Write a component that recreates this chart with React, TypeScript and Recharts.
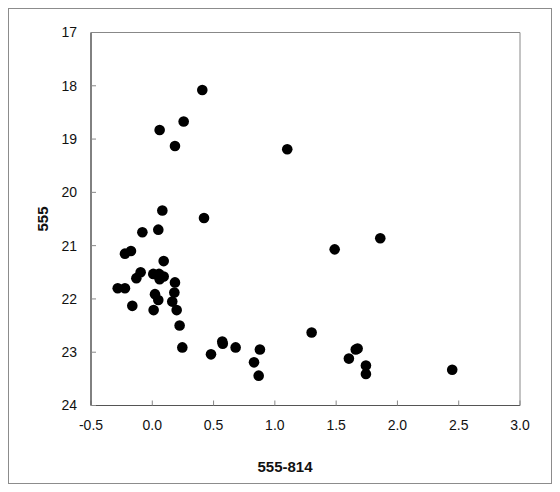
import React from 'react';
import { ScatterChart, Scatter, XAxis, YAxis, ReferenceArea, Label } from 'recharts';

// 555-814 colour index
const colorIndex: number[] = [
  0.408, 0.256, 0.06, 0.185, 1.101, 0.082, 0.422, 0.049, -0.081, 1.86,
  1.488, -0.223, -0.174, 0.093, -0.095, -0.13, 0.008, 0.055, 0.06, 0.093,
  0.185, -0.282, -0.223, 0.18, 0.022, 0.049, 0.163, -0.163, 0.011, 0.199,
  0.223, 0.245, 0.479, 0.571, 0.575, 0.68, 0.83, 0.878, 0.868, 1.3,
  1.604, 1.66, 1.675, 1.743, 1.743, 2.447,
];
// 555 magnitude
const magnitude: number[] = [
  18.08, 18.67, 18.83, 19.13, 19.19, 20.34, 20.48, 20.7, 20.75, 20.86,
  21.07, 21.15, 21.1, 21.29, 21.5, 21.61, 21.53, 21.53, 21.63, 21.58,
  21.69, 21.8, 21.8, 21.88, 21.91, 22.02, 22.05, 22.13, 22.21, 22.21,
  22.5, 22.91, 23.04, 22.8, 22.84, 22.91, 23.19, 22.95, 23.44, 22.63,
  23.12, 22.95, 22.93, 23.25, 23.41, 23.33,
];
const xTicks: number[] = [-0.5, 0, 0.5, 1, 1.5, 2, 2.5, 3];
const yTicks: number[] = [17, 18, 19, 20, 21, 22, 23, 24];
const xTitle = '555-814';
const yTitle = '555';

const data = colorIndex.map((x, i) => ({ x, y: magnitude[i] }));

const FONT = '"Liberation Sans", Arial, sans-serif';

const Dot = (props: any) => <circle cx={props.cx} cy={props.cy} r={5.3} fill="#000" />;

export default function App() {
  return (
    <div style={{ position: 'relative', width: 544, height: 476 }}>
      <ScatterChart
        width={544}
        height={476}
        margin={{ top: 24.5, right: 32, bottom: 0, left: 0 }}
        style={{ fontFamily: FONT }}
      >
        <ReferenceArea x1={-0.5} x2={3} y1={17} y2={24} fill="none" stroke="#888" strokeWidth={1} ifOverflow="visible" />
        <XAxis
          type="number"
          dataKey="x"
          domain={[-0.5, 3]}
          ticks={xTicks}
          allowDataOverflow
          tickFormatter={(v: number) => v.toFixed(1)}
          height={78.5}
          tickSize={-5}
          tickMargin={19.5}
          axisLine={{ stroke: '#555', strokeWidth: 1.2 }}
          tickLine={{ stroke: '#888' }}
          tick={{ fill: '#111', fontSize: 14, fontFamily: FONT }}
        >
          <Label
            content={(p: any) => {
              const vb = p.viewBox;
              return (
                <text
                  x={vb.x + vb.width / 2 - 20.5}
                  y={458.5}
                  textAnchor="middle"
                  dominantBaseline="central"
                  fontWeight="bold"
                  fontSize={15}
                  fontFamily={FONT}
                  fill="#111"
                >
                  {xTitle}
                </text>
              );
            }}
          />
        </XAxis>
        <YAxis
          type="number"
          dataKey="y"
          domain={[17, 24]}
          ticks={yTicks}
          reversed
          allowDataOverflow
          width={83}
          tickSize={-5}
          tickMargin={19}
          axisLine={{ stroke: '#555', strokeWidth: 1.2 }}
          tickLine={{ stroke: '#888' }}
          tick={{ fill: '#111', fontSize: 14, fontFamily: FONT }}
        >
          <Label
            content={(p: any) => {
              const vb = p.viewBox;
              const cx = 34;
              const cy = vb.y + vb.height / 2;
              return (
                <text
                  x={cx}
                  y={cy}
                  textAnchor="middle"
                  dominantBaseline="central"
                  fontWeight="bold"
                  fontSize={15}
                  fontFamily={FONT}
                  fill="#111"
                  transform={`rotate(-90, ${cx}, ${cy})`}
                >
                  {yTitle}
                </text>
              );
            }}
          />
        </YAxis>
        <Scatter data={data} shape={Dot} isAnimationActive={false} />
      </ScatterChart>
      <div
        style={{
          position: 'absolute',
          left: 0,
          top: 0,
          width: 544,
          height: 476,
          border: '1px solid #8c8c8c',
          boxSizing: 'border-box',
          pointerEvents: 'none',
        }}
      />
    </div>
  );
}
